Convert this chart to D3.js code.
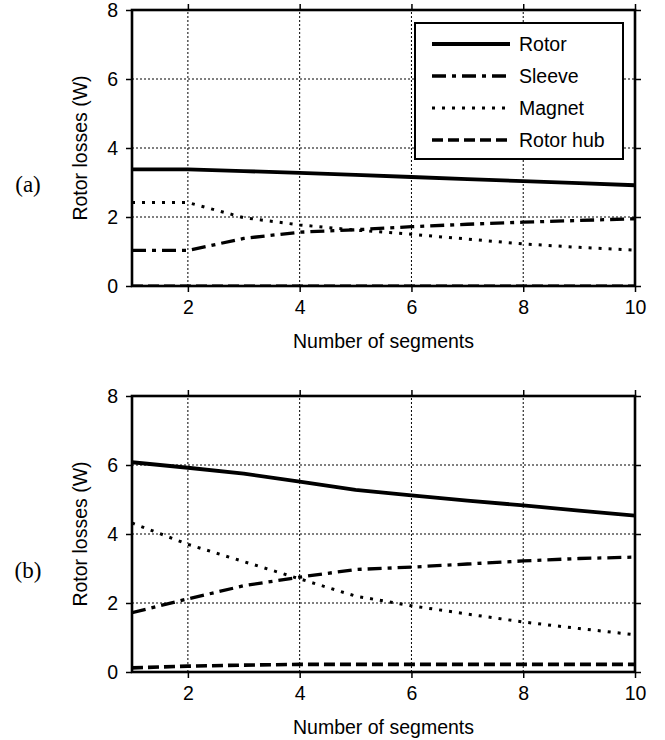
<!DOCTYPE html>
<html><head><meta charset="utf-8">
<script src="https://cdn.jsdelivr.net/npm/d3@7"></script>
<style>body{margin:0;background:#fff}svg{display:block}</style></head>
<body><svg id="c" width="665" height="740"></svg>
<script>
const segments = [1,2,3,4,5,6,7,8,9,10];
const seriesNames = ["Rotor","Sleeve","Magnet","Rotor hub"];
const aRotor  = [3.38,3.38,3.33,3.28,3.22,3.16,3.10,3.04,2.98,2.92];
const aSleeve = [1.03,1.03,1.38,1.56,1.63,1.72,1.79,1.85,1.90,1.95];
const aMagnet = [2.42,2.42,1.98,1.77,1.62,1.50,1.36,1.22,1.12,1.04];
const aHub    = [0,0,0,0,0,0,0,0,0,0];
const bRotor  = [6.08,5.92,5.75,5.52,5.28,5.12,4.97,4.83,4.68,4.53];
const bSleeve = [1.72,2.12,2.50,2.75,2.97,3.04,3.13,3.22,3.29,3.33];
const bMagnet = [4.32,3.70,3.20,2.70,2.20,1.92,1.68,1.45,1.26,1.08];
const bHub    = [0.12,0.17,0.20,0.22,0.22,0.22,0.22,0.22,0.22,0.22];
const xTicks = [2,4,6,8,10];
const yTicks = [0,2,4,6,8];
const xLabel = "Number of segments";
const yLabel = "Rotor losses (W)";

const styles = [
  {w:3.8, dash:null},
  {w:3.3, dash:"14,6,4,6"},
  {w:3.0, dash:"3,7"},
  {w:3.6, dash:"11,5"}
];
const svg = d3.select("#c");
const font = "'Liberation Sans', Arial, sans-serif";
const fs = 19.5;
const x = d3.scaleLinear().domain([1,10]).range([132,635]);
let pid = 0;

function panel(top, bottom, data, tag, legend){
  const y = d3.scaleLinear().domain([0,8]).range([bottom, top]);
  const g = svg.append("g");
  const cid = "clip" + (pid++);
  svg.append("defs").append("clipPath").attr("id",cid).append("rect")
    .attr("x",x(1)).attr("y",y(8)).attr("width",x(10)-x(1)).attr("height",y(0)-y(8)-1.3);
  // grid
  g.selectAll(".vg").data(xTicks.filter(d=>d<10)).enter().append("line")
    .attr("x1",d=>x(d)).attr("x2",d=>x(d)).attr("y1",y(0)).attr("y2",y(8))
    .attr("stroke","#000").attr("stroke-width",1).attr("stroke-dasharray","2,2");
  g.selectAll(".hg").data(yTicks.filter(d=>d>0&&d<8)).enter().append("line")
    .attr("y1",d=>y(d)).attr("y2",d=>y(d)).attr("x1",x(1)).attr("x2",x(10))
    .attr("stroke","#000").attr("stroke-width",1).attr("stroke-dasharray","2,2");
  // axes
  const ax = d3.axisBottom(x).tickValues(xTicks).tickSize(6).tickPadding(8).tickFormat(d3.format("d"));
  const axT = d3.axisTop(x).tickValues(xTicks).tickSize(6).tickFormat("");
  const ay = d3.axisLeft(y).tickValues(yTicks).tickSize(6).tickPadding(8).tickFormat(d3.format("d"));
  const ayR = d3.axisRight(y).tickValues(yTicks).tickSize(6).tickFormat("");
  const gb = g.append("g").attr("transform",`translate(0,${y(0)})`).call(ax);
  const gt = g.append("g").attr("transform",`translate(0,${y(8)})`).call(axT);
  const gl = g.append("g").attr("transform",`translate(${x(1)},0)`).call(ay);
  const gr = g.append("g").attr("transform",`translate(${x(10)},0)`).call(ayR);
  [gb,gt,gl,gr].forEach(a=>{
    a.select(".domain").remove();
    a.selectAll("line").attr("stroke","#000").attr("stroke-width",1.5);
    a.selectAll("text").attr("font-family",font).attr("font-size",fs).attr("fill","#000");
  });
  // lines
  const line = d3.line().x((d,i)=>x(segments[i])).y(d=>y(d));
  const lg = g.append("g").attr("clip-path",`url(#${cid})`);
  data.forEach((vals,k)=>{
    lg.append("path").datum(vals).attr("d",line).attr("fill","none")
      .attr("stroke","#000").attr("stroke-width",styles[k].w)
      .attr("stroke-dasharray",styles[k].dash).attr("stroke-linejoin","round");
  });
  // frame
  g.append("rect").attr("x",x(1)).attr("y",y(8)).attr("width",x(10)-x(1)).attr("height",y(0)-y(8))
    .attr("fill","none").attr("stroke","#000").attr("stroke-width",2.6);
  // labels
  g.append("text").attr("x",(x(1)+x(10))/2).attr("y",y(0)+62).attr("text-anchor","middle")
    .attr("font-family",font).attr("font-size",fs).text(xLabel);
  g.append("text").attr("transform",`translate(87,${(y(0)+y(8))/2}) rotate(-90)`).attr("text-anchor","middle")
    .attr("font-family",font).attr("font-size",fs).text(yLabel);
  g.append("text").attr("x",28).attr("y",(y(0)+y(8))/2+44).attr("text-anchor","middle")
    .attr("font-family","'Liberation Serif','Times New Roman',serif").attr("font-size",23).text(tag);
  if(legend){
    const lx=415, ly=23, lw=208, lh=136;
    g.append("rect").attr("x",lx).attr("y",ly).attr("width",lw).attr("height",lh)
      .attr("fill","#fff").attr("stroke","#000").attr("stroke-width",2);
    seriesNames.forEach((n,k)=>{
      const yy = ly + 21 + k*32;
      g.append("line").attr("x1",lx+17).attr("x2",lx+95).attr("y1",yy).attr("y2",yy)
        .attr("stroke","#000").attr("stroke-width",styles[k].w).attr("stroke-dasharray",styles[k].dash);
      g.append("text").attr("x",lx+104).attr("y",yy+7).attr("font-family",font).attr("font-size",fs).text(n);
    });
  }
}
panel(10, 286, [aRotor,aSleeve,aMagnet,aHub], "(a)", true);
panel(396, 672, [bRotor,bSleeve,bMagnet,bHub], "(b)", false);
</script></body></html>
